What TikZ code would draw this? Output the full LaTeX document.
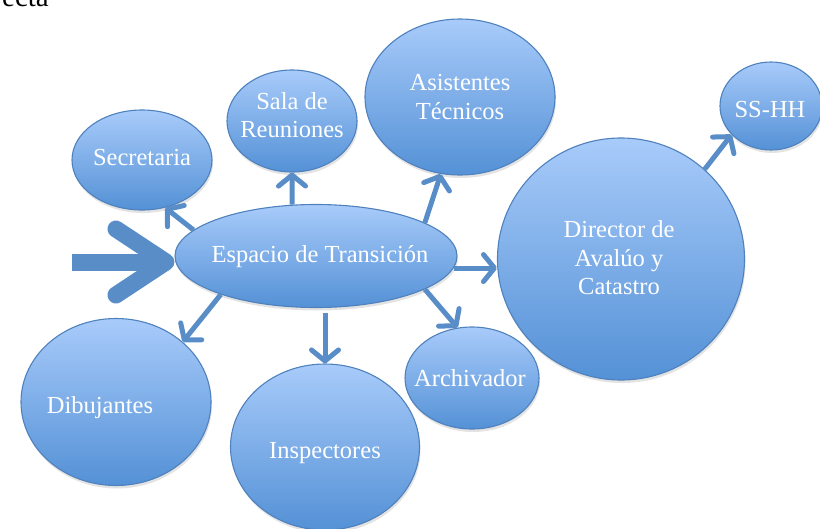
\documentclass[tikz,border=0pt]{standalone}
\usepackage{fontspec}
\setmainfont{Liberation Serif}
\usetikzlibrary{arrows.meta,shapes.geometric,shadows}
\definecolor{bubtop}{RGB}{168,203,250}
\definecolor{bubbot}{RGB}{84,145,214}
\definecolor{bubline}{RGB}{79,129,189}
\definecolor{arrcol}{RGB}{88,141,200}
\tikzset{
  bub/.style={ellipse, draw=bubline, line width=1.1pt, top color=bubtop, bottom color=bubbot,
    inner sep=0pt, drop shadow={shadow xshift=1pt, shadow yshift=-3pt, opacity=0.22}},
  lbl/.style={text=white, align=center, font=\fontsize{24.5}{28.5}\selectfont, inner sep=0pt},
  arr/.style={draw=arrcol, line width=5pt, -{Straight Barb[length=11pt,width=27pt,round]}},
  bigarr/.style={draw=arrcol, line width=17pt, -{Straight Barb[length=50pt,width=66pt,round]}}
}
\begin{document}
\begin{tikzpicture}[x=1pt,y=-1pt]
\useasboundingbox (0,0) rectangle (820,528);
\node[anchor=base east, inner sep=0pt, font=\fontsize{29}{30}\selectfont] (ecta) at (49,6) {ecta};
% bubbles
\node[bub, minimum width=140pt, minimum height=100pt] (sec) at (142,160) {};
\node[bub, minimum width=130pt, minimum height=102pt] (sala) at (292,121) {};
\node[bub, minimum width=190pt, minimum height=156pt] (asis) at (460,97) {};
\node[bub, minimum width=102pt, minimum height=88pt] (ss) at (771,106) {};
\node[bub, minimum width=247pt, minimum height=242pt] (dir) at (621,259) {};
\node[bub, minimum width=282pt, minimum height=103pt] (esp) at (316,256) {};
\node[bub, minimum width=190pt, minimum height=167pt] (dib) at (116,402) {};
\node[bub, minimum width=189pt, minimum height=166pt] (insp) at (325,447) {};
\node[bub, minimum width=134pt, minimum height=102pt] (arch) at (472,378) {};
% labels
\node[lbl] (tsec) at (142,158) {Secretaria};
\node[lbl] (tsala) at (292,115) {Sala de\\Reuniones};
\node[lbl] (tasis) at (460,97) {Asistentes\\Técnicos};
\node[lbl] (tss) at (770,110) {SS-HH};
\node[lbl] (tdir) at (619,258) {Director de\\Avalúo y\\Catastro};
\node[lbl] (tesp) at (320,257) {Espacio de Transición};
\node[lbl] (tdib) at (100,408) {Dibujantes};
\node[lbl] (tinsp) at (325,453) {Inspectores};
\node[lbl] (tarch) at (470,378) {Archivador};
% connectors
\coordinate (entry) at (72,262);
\draw[bigarr] (entry) -- (entry -| esp.west);
\draw[arr] (esp.168) -- (sec.-64);
\draw[arr] (esp.115) -- (sala.south);
\draw[arr] (esp.17) -- (asis.256);
\draw[arr] (esp.-5) -- (esp.-5 -| dir.west);
\draw[arr] (esp.-17) -- (arch.106);
\draw[arr, shorten <=5pt] (esp.south -| insp.north) -- (insp.north);
\draw[arr] (esp.202) -- (dib.42);
\draw[arr] (dir.47) -- (ss.216);
\end{tikzpicture}
\end{document}
